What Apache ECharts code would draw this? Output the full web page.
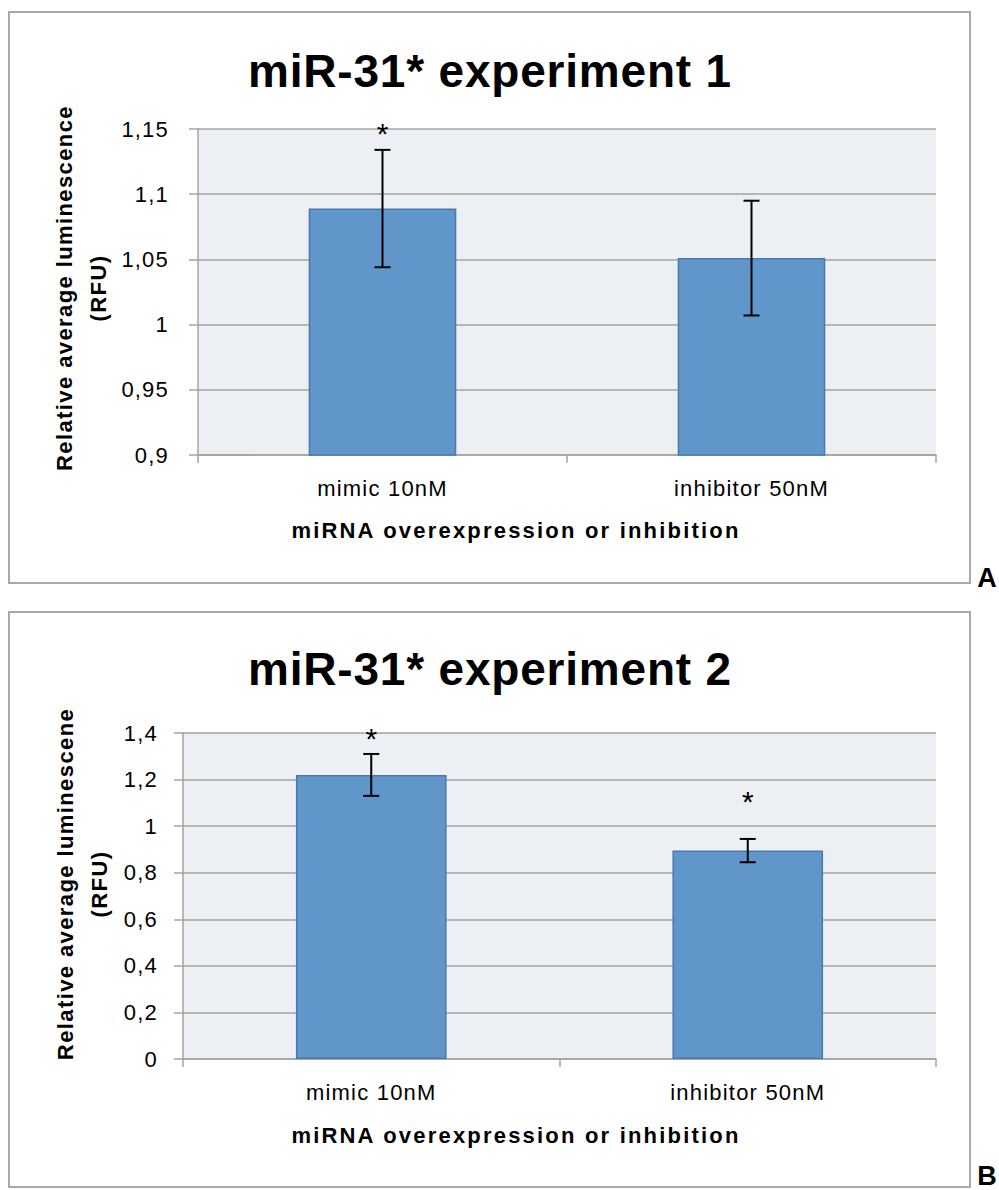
<!DOCTYPE html>
<html>
<head>
<meta charset="utf-8">
<script src="https://cdn.jsdelivr.net/npm/echarts@6/dist/echarts.min.js"></script>
<style>
  html, body { margin: 0; padding: 0; background: #ffffff; }
  #chart { width: 999px; height: 1190px; }
</style>
</head>
<body>
<div id="chart"></div>
<script>
// Treatments shown on both panels
const categories = ['mimic 10nM', 'inhibitor 50nM'];

// Experiment 1: mean relative luminescence and error bar half-widths
const meanA = [1.089, 1.051];
const errA = [0.045, 0.044];
// Significance marks (value where the asterisk sits; null = none)
const starA = [1.1515, null];
const yTicksA = [0.9, 0.95, 1, 1.05, 1.1, 1.15];

// Experiment 2
const meanB = [1.22, 0.895];
const errB = [0.09, 0.05];
const starB = [1.405, 1.135];
const yTicksB = [0, 0.2, 0.4, 0.6, 0.8, 1, 1.2, 1.4];

const titles = ['miR-31* experiment 1', 'miR-31* experiment 2'];
const yNames = ['Relative average luminescence\n(RFU)', 'Relative average luminescene\n(RFU)'];
const xName = 'miRNA overexpression or inhibition';
const panelTags = ['A', 'B'];

const FONT = '"Liberation Sans", Arial, Helvetica, sans-serif';
const GRID_GRAY = '#a3a3a3';

const fmt = v => String(+v.toFixed(2)).replace('.', ',');

function xAxisCfg(gridIndex) {
  return {
    type: 'category', gridIndex, data: categories,
    axisLine: { lineStyle: { color: GRID_GRAY, width: 1.5 } },
    axisTick: { show: true, length: 8, alignWithLabel: false, lineStyle: { color: GRID_GRAY, width: 1.5 } },
    axisLabel: { color: '#000', fontFamily: FONT, fontSize: 22, margin: 22 },
    splitLine: { show: false }
  };
}

// namePad shifts the rotated axis name upward along the axis
function yAxisCfg(gridIndex, ticks, name, nameGap, labelMargin, namePad) {
  return {
    type: 'value', gridIndex,
    min: ticks[0], max: ticks[ticks.length - 1],
    interval: +(ticks[1] - ticks[0]).toFixed(4),
    name, nameLocation: 'middle', nameRotate: 90, nameGap,
    nameTextStyle: {
      color: '#000', fontFamily: FONT, fontSize: 22, fontWeight: 'bold', lineHeight: 34,
      padding: [0, 0, 0, namePad]
    },
    axisLine: { show: true, lineStyle: { color: GRID_GRAY, width: 1.5 } },
    axisTick: { show: true, length: 9, lineStyle: { color: GRID_GRAY, width: 1.5 } },
    axisLabel: { color: '#000', fontFamily: FONT, fontSize: 22, margin: labelMargin, formatter: fmt },
    splitLine: { show: true, lineStyle: { color: GRID_GRAY, width: 1.5 } }
  };
}

function barSeries(idx, means) {
  return {
    type: 'bar', xAxisIndex: idx, yAxisIndex: idx, data: means,
    barWidth: '40%',
    itemStyle: { color: '#6096c9', borderColor: '#4a78ad', borderWidth: 1.5 },
    silent: true
  };
}

function errorSeries(idx, means, errs) {
  return {
    type: 'custom', xAxisIndex: idx, yAxisIndex: idx, z: 5, silent: true,
    data: means.map((m, i) => [i, m - errs[i], m + errs[i]]),
    renderItem(params, api) {
      const lo = api.coord([api.value(0), api.value(1)]);
      const hi = api.coord([api.value(0), api.value(2)]);
      const cap = 8;
      const st = { stroke: '#000', lineWidth: 2 };
      return {
        type: 'group', children: [
          { type: 'line', shape: { x1: hi[0], y1: hi[1], x2: lo[0], y2: lo[1] }, style: st },
          { type: 'line', shape: { x1: hi[0] - cap, y1: hi[1], x2: hi[0] + cap, y2: hi[1] }, style: st },
          { type: 'line', shape: { x1: lo[0] - cap, y1: lo[1], x2: lo[0] + cap, y2: lo[1] }, style: st }
        ]
      };
    }
  };
}

function starSeries(idx, stars) {
  const pts = [];
  stars.forEach((s, i) => { if (s !== null) pts.push([i, s]); });
  return {
    type: 'custom', xAxisIndex: idx, yAxisIndex: idx, z: 6, silent: true, clip: false,
    data: pts,
    renderItem(params, api) {
      const p = api.coord([api.value(0), api.value(1)]);
      const size = 30;
      return {
        type: 'text', x: p[0], y: p[1] + size * 0.22,
        style: { text: '*', fill: '#000', font: size + 'px ' + FONT, align: 'center', verticalAlign: 'middle' }
      };
    }
  };
}

function panelGraphics(top, height, titleY, xNameY, tagY, tag, title) {
  return [
    { type: 'rect', shape: { x: 9, y: top, width: 961, height },
      style: { fill: 'none', stroke: '#a9a9a9', lineWidth: 2 }, silent: true },
    { type: 'text', x: 490, y: titleY,
      style: { text: title, fill: '#000', font: 'bold 46px ' + FONT, align: 'center', verticalAlign: 'middle' } },
    { type: 'text', x: 516, y: xNameY,
      style: { text: xName, fill: '#000', font: 'bold 22px ' + FONT, align: 'center', verticalAlign: 'middle' } },
    { type: 'text', x: 987, y: tagY,
      style: { text: tag, fill: '#000', font: 'bold 27px ' + FONT, align: 'center', verticalAlign: 'middle' } }
  ];
}

const chart = echarts.init(document.getElementById('chart'), null, { renderer: 'svg' });

chart.setOption({
  animation: false,
  backgroundColor: '#ffffff',
  textStyle: { fontFamily: FONT },
  grid: [
    { left: 198, top: 129, width: 738, height: 326, show: true, backgroundColor: '#eceff4', borderWidth: 0 },
    { left: 183, top: 733, width: 753, height: 326, show: true, backgroundColor: '#eceff4', borderWidth: 0 }
  ],
  xAxis: [xAxisCfg(0), xAxisCfg(1)],
  yAxis: [
    yAxisCfg(0, yTicksA, yNames[0], 77, 29, 8),
    yAxisCfg(1, yTicksB, yNames[1], 62, 25, 24)
  ],
  series: [
    barSeries(0, meanA), errorSeries(0, meanA, errA), starSeries(0, starA),
    barSeries(1, meanB), errorSeries(1, meanB, errB), starSeries(1, starB)
  ],
  graphic: [
    ...panelGraphics(12, 571, 71, 530, 578, panelTags[0], titles[0]),
    ...panelGraphics(612, 575, 669, 1135, 1176, panelTags[1], titles[1])
  ]
});

// Loosen the tracking of the text slightly, as in the original typesetting
function spaceText() {
  document.querySelectorAll('#chart text').forEach(t => {
    const cs = getComputedStyle(t);
    const size = parseFloat(cs.fontSize);
    const bold = parseInt(cs.fontWeight, 10) >= 600 || cs.fontWeight === 'bold';
    const str = t.textContent || '';
    let ls = 1.2;
    if (size >= 40) ls = 0.8;
    else if (str === '*' || size >= 26) ls = 0;
    else if (bold && str.indexOf('overexpression') >= 0) ls = 2.2;
    else if (bold) ls = 1.4;
    t.style.letterSpacing = ls + 'px';
  });
}
chart.on('finished', spaceText);
setTimeout(spaceText, 50);
</script>
</body>
</html>
